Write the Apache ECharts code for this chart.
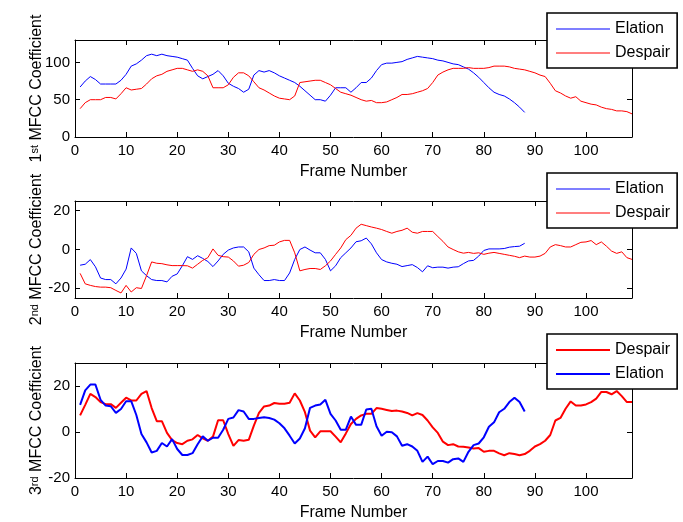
<!DOCTYPE html>
<html>
<head>
<meta charset="utf-8">
<script src="https://cdn.jsdelivr.net/npm/echarts@6/dist/echarts.min.js"></script>
<style>
  html, body { margin: 0; padding: 0; background: #fff; }
  #main { width: 683px; height: 522px; }
</style>
</head>
<body>
<div id="main"></div>
<script>
const FONT = '"Liberation Sans", Arial, Helvetica, sans-serif'

// frame-by-frame MFCC values (frame = index + 1)
const elation1 = [67, 75, 81, 77, 71, 71, 71, 71, 76, 84,
  95, 98, 103, 109, 111, 109, 111, 109, 108, 107,
  105, 103, 92, 82, 78, 81, 84, 89, 82, 72,
  68, 65, 60, 64, 83, 89, 87, 89, 86, 82,
  79, 76, 73, 68, 62, 56, 50, 50, 48, 56,
  66, 66, 66, 60, 66, 73, 73, 79, 89, 97,
  99, 99, 100, 101, 104, 106, 108, 107, 106, 105,
  103, 102, 100, 98, 97, 94, 91, 86, 80, 73,
  66, 60, 57, 55, 51, 46, 40, 33]
const despair1 = [38, 46, 50, 50, 50, 53, 53, 51, 58, 66,
  63, 64, 65, 71, 78, 82, 84, 88, 90, 92,
  92, 90, 88, 90, 88, 82, 66, 66, 66, 70,
  80, 86, 86, 82, 74, 66, 63, 59, 55, 52,
  51, 50, 55, 73, 74, 75, 76, 76, 73, 70,
  65, 60, 58, 56, 53, 50, 48, 49, 46, 46,
  47, 50, 53, 57, 57, 58, 60, 62, 65, 73,
  83, 87, 90, 92, 92, 92, 93, 92, 92, 92,
  93, 95, 95, 95, 94, 92, 91, 90, 88, 86,
  83, 81, 72, 62, 59, 55, 52, 54, 48, 46,
  44, 43, 40, 38, 37, 35, 35, 34, 31]

const elation2 = [-8.1, -7.6, -5.2, -8.9, -14.7, -15.5, -15.5, -17.7, -14.7, -10.1,
  0.8, -2, -11, -13.5, -15.5, -16, -16, -16.7, -13.8, -12.6,
  -8.4, -3.7, -5.1, -3.2, -4.6, -6.2, -8.8, -5.9, -2.5, -0.3,
  0.8, 1.3, 1.3, -1.2, -9.6, -13, -16, -16, -15.5, -16,
  -16, -12.1, -5.1, 0, 1.3, -0.3, -1.7, -1.7, -5.1, -11,
  -8.4, -4.2, -1.7, 0.8, 4, 4.5, 5.9, 2.9, -1.7, -5.2,
  -6.4, -7.1, -7.6, -8.8, -8.3, -7.8, -9.3, -11.5, -8.4, -9.4,
  -9.1, -9.1, -9.6, -9.1, -8.9, -7.3, -5.9, -5.6, -3.4, -0.5,
  0.3, 0.3, 0.3, 0.5, 1.2, 1.5, 1.7, 3.2]
const despair2 = [-12.3, -17.7, -18.5, -19.1, -19.4, -19.4, -19.7, -21.1, -22.4, -18.5,
  -21.9, -19.7, -20.1, -13.5, -6.4, -7.1, -7.3, -7.9, -8.3, -8.3,
  -8.3, -8.4, -9.6, -7.6, -5.6, -4.2, 0.3, -3, -3.7, -3.9,
  -5.9, -8.6, -8.1, -6.7, -2.5, 0, 0.8, 2, 2.2, 3.9,
  4.7, 4.7, -1.7, -11, -10.3, -9.8, -9.8, -10.3, -8.4, -5.9,
  -2.5, 0.8, 5.1, 7.3, 11, 13, 12.3, 11.6, 11, 10.3,
  9.3, 8.4, 9.3, 9.9, 11, 8.9, 8.4, 9.3, 9.3, 9.3,
  6.7, 4.2, 1.3, 0, -1.2, -1.9, -1.5, -2, -1.7, -2.5,
  -1.9, -1.5, -2, -2.5, -3, -3.5, -4.2, -3.4, -3.9, -3.9,
  -3.4, -2, 1.3, 2.5, 2, 1.3, 1.3, 2.5, 3.7, 3.9,
  4.6, 2.5, 3.9, 1.7, -0.8, -2, -1.2, -4.2, -5.1]

const elation3 = [11.8, 18.1, 20.6, 20.6, 14, 11.5, 11.2, 8.3, 10, 13.4,
  13.4, 7.4, -0.9, -4.5, -8.9, -8.2, -4.8, -6.3, -3.1, -7.4,
  -10, -10, -9.2, -5.3, -1.9, -3.8, -2.5, -2.5, 1, 5.7,
  6.3, 9.5, 8.9, 5.7, 5.7, 6.1, 6.4, 6.1, 5.4, 3.8,
  1.6, -1.6, -5, -2.8, 1.6, 10.5, 11.5, 12, 14, 7.9,
  5, 1, 1, 6.7, 3.1, 3.1, 9.8, 10.1, 2.5, -1.6,
  0.1, -0.1, -1.9, -6, -5.3, -6.3, -8.2, -13, -10.7, -14,
  -12.6, -12.6, -13.3, -11.8, -11.5, -13, -8.6, -5.7, -5, -2.3,
  2.3, 4.2, 8.6, 10.1, 13, 14.9, 13, 8.9]
const despair3 = [7.2, 11.8, 16.6, 15.2, 13, 12.1, 12.1, 10.5, 12.7, 14.9,
  13.7, 13.7, 16.6, 17.8, 10.4, 4.7, 4.7, -0.4, -3.5, -4.8,
  -5.3, -3.8, -3.2, -1.3, -2.8, -3.8, -2, 5.1, 5.1, -0.9,
  -6, -3.5, -3.8, -3.4, 2.8, 8.3, 11.1, 11.5, 12.6, 12.3,
  12.3, 12.7, 16.8, 13.7, 8.6, 0.6, -2.3, 0.3, 0.3, 0.3,
  -2, -4.5, -0.6, 3.5, 5.7, 7.2, 7.9, 7.9, 10.4, 10.1,
  9.6, 9.1, 9.3, 8.9, 8.3, 7.2, 8.2, 7.4, 5, 2,
  -0.4, -4.2, -5.7, -5.3, -6.3, -6.4, -6.7, -7.2, -7, -8.6,
  -8.2, -8.2, -9.3, -10.1, -9.2, -9.6, -10.1, -9.6, -8.2, -6.3,
  -5.3, -3.8, -1.3, 5, 6.1, 10.1, 13.3, 11.5, 11.5, 12,
  13, 14.5, 17.4, 17.4, 16.4, 17.8, 15.6, 13, 13]

// tick labels
const xTicks = [0, 10, 20, 30, 40, 50, 60, 70, 80, 90, 100]
const yTicks1 = [0, 50, 100]
const yTicks2 = [-20, 0, 20]
const yTicks3 = [-20, 0, 20]

const ordinals = ['1', '2', '3']
const suffixes = ['st', 'nd', 'rd']

const chart = echarts.init(document.getElementById('main'))

const grids = [
  {left: 75, top: 40, width: 557, height: 97},
  {left: 75, top: 201, width: 557, height: 97},
  {left: 75, top: 363, width: 557, height: 116}
]
const yRanges = [[0, 130], [-25, 25], [-20, 30]]
const yTicks = [yTicks1, yTicks2, yTicks3]

const black = {color: '#000', width: 1}

function xAxes(g) {
  let base = {
    gridIndex: g, type: 'value', min: 0, max: 109,
    splitLine: {show: false},
    axisLine: {show: true, onZero: false, lineStyle: black},
    axisTick: {show: true, inside: true, length: 5, customValues: xTicks, lineStyle: black}
  }
  return [
    Object.assign({}, base, {
      position: 'bottom',
      name: 'Frame Number', nameLocation: 'middle', nameGap: 27, nameMoveOverlap: false,
      nameTextStyle: {fontSize: 16, color: '#000', fontFamily: FONT},
      axisLabel: {customValues: xTicks, fontSize: 15, color: '#000', margin: 6, fontFamily: FONT}
    }),
    Object.assign({}, base, {position: 'top', axisLabel: {show: false}})
  ]
}

function yAxes(g) {
  let base = {
    gridIndex: g, type: 'value', min: yRanges[g][0], max: yRanges[g][1],
    splitLine: {show: false},
    axisLine: {show: true, onZero: false, lineStyle: black},
    axisTick: {show: true, inside: true, length: 5, customValues: yTicks[g], lineStyle: black}
  }
  return [
    Object.assign({}, base, {
      position: 'left',
      name: '{n|' + ordinals[g] + '}{s|' + suffixes[g] + '}{n| MFCC Coefficient}',
      nameLocation: 'middle', nameGap: 30, nameMoveOverlap: false,
      nameTextStyle: {
        color: '#000', fontFamily: FONT, fontSize: 16,
        rich: {
          n: {fontSize: 16, color: '#000', fontFamily: FONT},
          s: {fontSize: 11, color: '#000', fontFamily: FONT, verticalAlign: 'top'}
        }
      },
      axisLabel: {customValues: yTicks[g], fontSize: 15, color: '#000', margin: 5, fontFamily: FONT}
    }),
    Object.assign({}, base, {position: 'right', axisLabel: {show: false}})
  ]
}

function pts(vals) {
  return vals.map((v, i) => [i + 1, v])
}

function line(name, g, vals, color, width) {
  return {
    name: name, type: 'line', xAxisIndex: g * 2, yAxisIndex: g * 2,
    data: pts(vals), symbol: 'none', silent: true,
    lineStyle: {color: color, width: width}, itemStyle: {color: color}
  }
}

function legend(top, names, lineWidth) {
  return {
    data: names, orient: 'vertical', left: 547, top: top,
    icon: 'rect', itemWidth: 54, itemHeight: lineWidth, itemGap: 8,
    padding: [8, 7, 7, 9],
    backgroundColor: '#fff', borderColor: '#000', borderWidth: 1.6,
    textStyle: {fontSize: 16, color: '#000', fontFamily: FONT},
    selectedMode: false
  }
}

const BLUE = '#0000ff'
const RED = '#ff0000'

chart.setOption({
  animation: false,
  backgroundColor: '#fff',
  grid: grids,
  xAxis: [].concat(xAxes(0), xAxes(1), xAxes(2)),
  yAxis: [].concat(yAxes(0), yAxes(1), yAxes(2)),
  legend: [
    legend(13, ['Elation', 'Despair'], 1),
    legend(173, ['Elation', 'Despair'], 1),
    legend(334, ['Despair', 'Elation'], 2)
  ],
  series: [
    line('Elation', 0, elation1, BLUE, 1),
    line('Despair', 0, despair1, RED, 1),
    line('Elation', 1, elation2, BLUE, 1),
    line('Despair', 1, despair2, RED, 1),
    line('Despair', 2, despair3, RED, 2),
    line('Elation', 2, elation3, BLUE, 2)
  ]
})
</script>
</body>
</html>
